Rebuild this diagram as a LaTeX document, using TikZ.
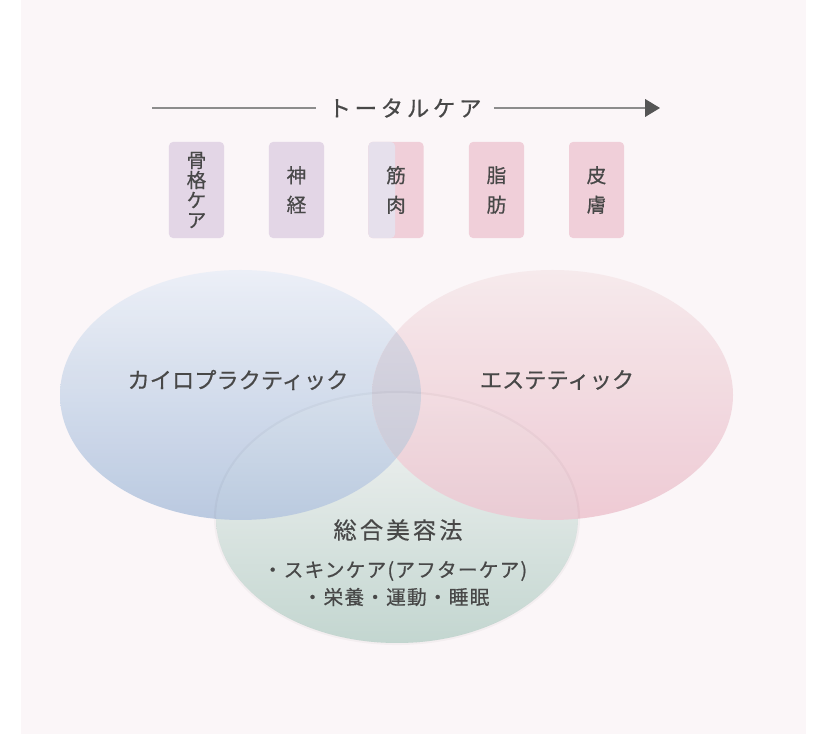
\documentclass[tikz,border=0pt]{standalone}
\usepackage{fontspec}
\setmainfont{Noto Sans CJK JP}[FakeBold=0.5]
\usetikzlibrary{arrows.meta}
\definecolor{bgpink}{HTML}{FBF6F8}
\definecolor{inkgray}{HTML}{484848}
\definecolor{linegray}{HTML}{8C8C8C}
\definecolor{tipgray}{HTML}{555555}
\definecolor{boxlav}{HTML}{E3D6E6}
\definecolor{boxpink}{HTML}{F0CFD9}
\definecolor{musclelav}{HTML}{E6E0EC}
\definecolor{chirotop}{HTML}{EBEFF7}
\definecolor{chiromid}{HTML}{DFE5F1}
\definecolor{chirobot}{HTML}{B5C6DF}
\definecolor{esthtop}{HTML}{F6E9EB}
\definecolor{esthmid}{HTML}{F5E2E6}
\definecolor{esthbot}{HTML}{EEC7D2}
\definecolor{beautytop}{HTML}{F4F4F4}
\definecolor{beautymid}{HTML}{EFEFEF}
\definecolor{beautybot}{HTML}{C3D6D0}
\definecolor{overlaptop}{HTML}{DDDAE4}
\definecolor{overlapbot}{HTML}{BEC3D3}

\begin{document}
\begin{tikzpicture}[x=0.025cm, y=0.025cm,
	every node/.style={text=inkgray, inner sep=0pt},
	carebox/.style={rounded corners=0.1cm, minimum width=1.375cm, minimum height=2.4cm, align=center, font=\fontsize{14}{21}\selectfont},
	lavbox/.style={carebox, fill=boxlav},
	pinkbox/.style={carebox, fill=boxpink},
	venn/.style={fill opacity=0.92},
	>={Triangle[length=10.5pt, width=12.5pt, color=tipgray]}]
	% page and background
	\fill[white] (0,0) rectangle (828,734);
	\fill[bgpink] (21,0) rectangle (806,734);
	% total care arrow
	\node[font=\fontsize{16}{18}\selectfont\addfontfeature{LetterSpace=16}, inner xsep=0.3cm] (total) at (405,626) {トータルケア};
	\coordinate (arrstart) at (152,626);
	\coordinate (arrend) at (660,626);
	\draw[linegray, line width=0.8pt] (arrstart) -- (total.west);
	\draw[->, linegray, line width=0.8pt] (total.east) -- (arrend);
	% care boxes
	\node[lavbox, font=\fontsize{14}{14.2}\selectfont] (bone) at (196.5,544) {骨\\格\\ケ\\ア};
	\node[lavbox] (nerve) at (296.5,544) {神\\経};
	\node[pinkbox, path picture={\fill[musclelav] (path picture bounding box.south west) rectangle ([xshift=-0.025cm]path picture bounding box.north);}] (muscle) at (396,544) {筋\\肉};
	\node[pinkbox] (fat) at (496.5,544) {脂\\肪};
	\node[pinkbox] (skin) at (596.5,544) {皮\\膚};
	% venn ellipses
	\shade[top color=beautytop, middle color=beautymid, bottom color=beautybot] (397,216) ellipse [x radius=181, y radius=125];
	\shade[venn, top color=chirotop, middle color=chiromid, bottom color=chirobot] (240.5,339) ellipse [x radius=180.5, y radius=125];
	\shade[venn, top color=esthtop, middle color=esthmid, bottom color=esthbot] (552.5,339) ellipse [x radius=180.5, y radius=125];
	\begin{scope}
		\clip (240.5,339) ellipse [x radius=180.5, y radius=125];
		\shade[venn, top color=overlaptop, bottom color=overlapbot] (552.5,339) ellipse [x radius=180.5, y radius=125];
	\end{scope}
	% soft tint of the lower ellipse over the others
	\shade[fill opacity=0.1, top color=beautytop, middle color=beautymid, bottom color=beautybot] (397,216) ellipse [x radius=181, y radius=125];
	\draw[black, draw opacity=0.03, line width=1.5pt] (397,216) ellipse [x radius=182, y radius=126];
	\node[font=\fontsize{15.8}{18}\selectfont] (chiro) at (238,354) {カイロプラクティック};
	\node[font=\fontsize{15.8}{18}\selectfont] (esthe) at (557,354) {エステティック};
	\node[font=\fontsize{16.5}{18}\selectfont\addfontfeature{LetterSpace=14}] (beauty) at (398,204) {総合美容法};
	\node[font=\fontsize{14}{16}\selectfont\addfontfeature{LetterSpace=6}] (skincare) at (395,163) {・スキンケア(アフターケア)};
	\node[font=\fontsize{14}{16}\selectfont\addfontfeature{LetterSpace=6}] (lifestyle) at (396,137) {・栄養・運動・睡眠};
\end{tikzpicture}
\end{document}
